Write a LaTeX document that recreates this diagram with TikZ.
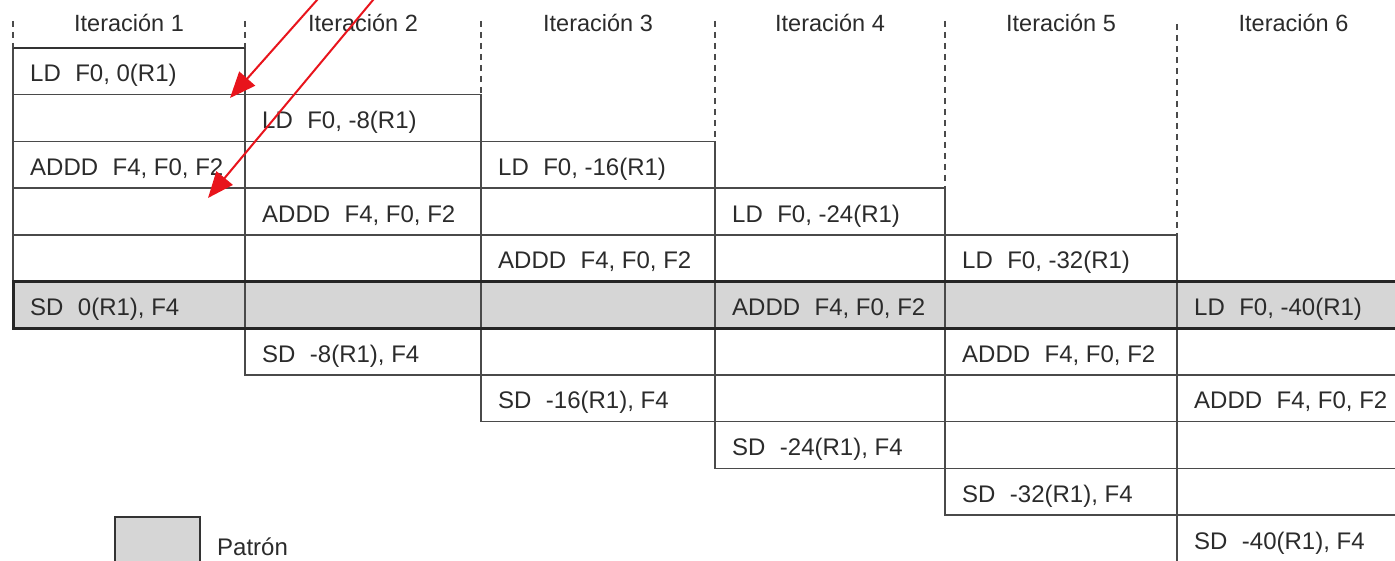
\documentclass[tikz,border=0pt]{standalone}
\usepackage{fontspec}
\setmainfont{Liberation Sans}
\usetikzlibrary{arrows.meta}
\definecolor{bandgray}{HTML}{D6D6D6}
\definecolor{linegray}{HTML}{4A4A4A}
\definecolor{inkgray}{HTML}{2B2B2B}
\definecolor{arrowred}{HTML}{E8141C}
\begin{document}
\begin{tikzpicture}[x=1pt,y=-1pt,
  celltext/.style={anchor=base west, inner sep=0pt, text=inkgray, font=\fontsize{24}{27}\selectfont},
  headtext/.style={anchor=base, inner sep=0pt, text=inkgray, font=\fontsize{23.5}{27}\selectfont},
  gridline/.style={draw=linegray, line width=1.5pt},
  bandline/.style={draw=black!85, line width=3pt},
  dashline/.style={draw=linegray, line width=1.4pt, dash pattern=on 6pt off 5pt},
  redarrow/.style={draw=arrowred, line width=2pt, -{Triangle[length=26pt,width=21pt]}, fill=arrowred}]
\useasboundingbox (0,0) rectangle (1395,561);
\clip (0,0) rectangle (1395,561);
% shaded pattern row
\fill[bandgray] (13,{48+5*46.7}) rectangle (1420,{48+6*46.7});
% columns
\foreach \j in {1,...,6}{
  \pgfmathsetmacro\xl{{13,245,481,715,945,1177}[\j-1]}
  \pgfmathsetmacro\xr{{245,481,715,945,1177,1410}[\j-1]}
  \pgfmathtruncatemacro\off{-8*(\j-1)}
  \foreach \k in {0,...,5}{
    \draw[gridline] (\xl,{48+(\j+\k-1)*46.7}) rectangle (\xr,{48+(\j+\k)*46.7});
  }
  \node[headtext] (h\j) at ({(\xl+\xr)/2},32) {Iteración \j};
  \node[celltext] (ld\j) at ({\xl+17},{48+(\j-1)*46.7+34}) {LD\hspace{0.6em}F0, \off(R1)};
  \node[celltext] (add\j) at ({\xl+17},{48+(\j+1)*46.7+34}) {ADDD\hspace{0.6em}F4, F0, F2};
  \node[celltext] (sd\j) at ({\xl+17},{48+(\j+4)*46.7+34}) {SD\hspace{0.6em}\off(R1), F4};
}
% top edge of first column is heavier
\draw[draw=black!80, line width=2.2pt] (13,48) -- (245,48);
% pattern row borders
\draw[bandline] (1420,{48+5*46.7}) -- (13,{48+5*46.7}) -- (13,{48+6*46.7}) -- (1420,{48+6*46.7});
% dashed separators
\draw[dashline] (13,21) -- (13,48);
\draw[dashline] (245,21) -- (245,48);
\draw[dashline] (481,21) -- (481,{48+1*46.7});
\draw[dashline] (715,21) -- (715,{48+2*46.7});
\draw[dashline] (945,21) -- (945,{48+3*46.7});
\draw[dashline] (1177,24) -- (1177,{48+4*46.7});
% legend
\draw[draw=black!80, line width=2pt, fill=bandgray] (115,517) rectangle (200,585);
\node[celltext] (legtext) at (217,555) {Patrón};
% red arrows
\coordinate (a1s) at (334.8,-20);
\coordinate (a1e) at (230,98);
\coordinate (a2s) at (389.7,-20);
\coordinate (a2e) at (208,198);
\draw[redarrow] (a1s) -- (a1e);
\draw[redarrow] (a2s) -- (a2e);
\end{tikzpicture}
\end{document}
